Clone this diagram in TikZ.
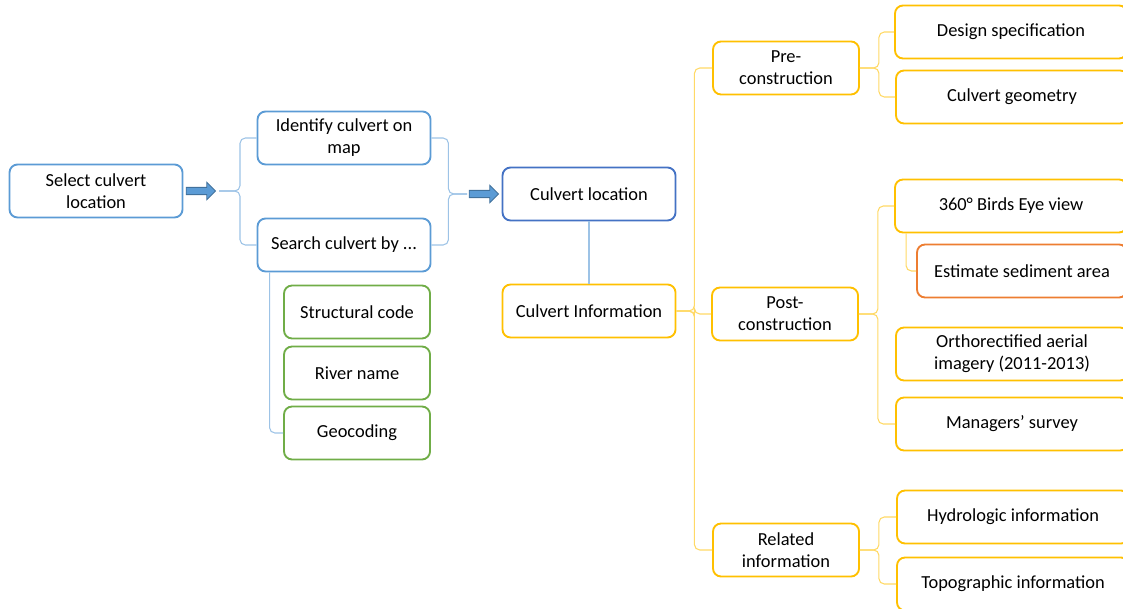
\documentclass[tikz,border=0pt]{standalone}
\usepackage{fontspec}
\setmainfont{Carlito}
\usetikzlibrary{calc,shapes.arrows}

\definecolor{boxblue}{HTML}{5B9BD5}
\definecolor{darkblue}{HTML}{4472C4}
\definecolor{boxgreen}{HTML}{70AD47}
\definecolor{boxgold}{HTML}{FFC000}
\definecolor{boxorange}{HTML}{ED7D31}
\definecolor{linkblue}{HTML}{9DC3E6}
\definecolor{linkgold}{HTML}{FFD966}
\definecolor{arrowedge}{HTML}{41719C}

\begin{document}
\begin{tikzpicture}[
  x=0.75pt, y=-0.75pt,
  box/.style={draw, line width=1.4pt, rounded corners=6pt, fill=white, align=center,
    font=\fontsize{13.8}{16.5}\selectfont, inner sep=2pt, minimum height=39.75pt},
  wide/.style={box, minimum width=129.75pt},
  small/.style={box, minimum width=109.5pt},
  long/.style={box, minimum width=174pt},
  bluelink/.style={draw=linkblue, line width=0.8pt, rounded corners=4pt},
  goldlink/.style={draw=linkgold, line width=0.8pt, rounded corners=4pt},
  flow/.style={single arrow, draw=arrowedge, fill=boxblue, line width=0.6pt,
    minimum height=22pt, minimum width=13pt, single arrow head extend=2.5pt, inner sep=1.5pt},
]

\clip (0,0) rectangle (1123,609);

% Search side
\node[wide, draw=boxblue] (select) at (96,191) {Select culvert\\location};
\node[wide, draw=boxblue] (identify) at (344,138) {Identify culvert on\\map};
\node[wide, draw=boxblue] (search) at (344,245) {Search culvert by ...};
\node[small, draw=boxgreen] (code) at (357,312) {Structural code};
\node[small, draw=boxgreen] (river) at (357,373) {River name};
\node[small, draw=boxgreen] (geo) at (357,433) {Geocoding};

\node[flow] (go1) at (199,191) {};
\node[flow] (go2) at (482,194) {};
\coordinate (lb) at (219,191);
\coordinate (rb) at (467,194);

\draw[bluelink] (lb) -- ++(21,0) |- (identify.west);
\draw[bluelink] (lb) -- ++(21,0) |- (search.west);
\draw[bluelink] (identify.east) -- ++(17,0) |- (rb);
\draw[bluelink] (search.east) -- ++(17,0) |- (rb);
\draw[bluelink] ($(search.south west)+(13,0)$) |- (geo.west);

% Culvert
\node[wide, draw=darkblue] (loc) at (589,194) {Culvert location};
\node[wide, draw=boxgold] (info) at (589,311) {Culvert Information};
\draw[bluelink] (loc) -- (info);

% Information branches
\node[small, draw=boxgold] (pre) at (786,68) {Pre-\\construction};
\node[small, draw=boxgold] (post) at (785,314) {Post-\\construction};
\node[small, draw=boxgold] (related) at (786,550) {Related\\information};

\draw[goldlink] (info.east) -- ++(18,0) |- (pre.west);
\draw[goldlink] (info.east) -- ++(18,0) |- (post.west);
\draw[goldlink] (info.east) -- ++(18,0) |- (related.west);

\node[long, draw=boxgold] (design) at (1011,32) {Design specification};
\node[long, draw=boxgold] (geometry) at (1012,97) {Culvert geometry};
\node[long, draw=boxgold] (birds) at (1011,206) {360° Birds Eye view};
\node[box, draw=boxorange, minimum width=157.5pt] (estimate) at (1022,271) {Estimate sediment area};
\node[long, draw=boxgold] (ortho) at (1012,354) {Orthorectified aerial\\imagery (2011-2013)};
\node[long, draw=boxgold] (survey) at (1012,424) {Managers’ survey};
\node[long, draw=boxgold] (hydro) at (1013,517) {Hydrologic information};
\node[long, draw=boxgold] (topo) at (1013,584) {Topographic information};

\draw[goldlink] (pre.east) -- ++(19,0) |- (design.west);
\draw[goldlink] (pre.east) -- ++(19,0) |- (geometry.west);
\draw[goldlink] (post.east) -- ++(19,0) |- (birds.west);
\draw[goldlink] (post.east) -- ++(19,0) |- (survey.west);
\draw[goldlink] ($(birds.south west)+(12,0)$) |- (estimate.west);
\draw[goldlink] (related.east) -- ++(19,0) |- (hydro.west);
\draw[goldlink] (related.east) -- ++(19,0) |- (topo.west);

\end{tikzpicture}
\end{document}
